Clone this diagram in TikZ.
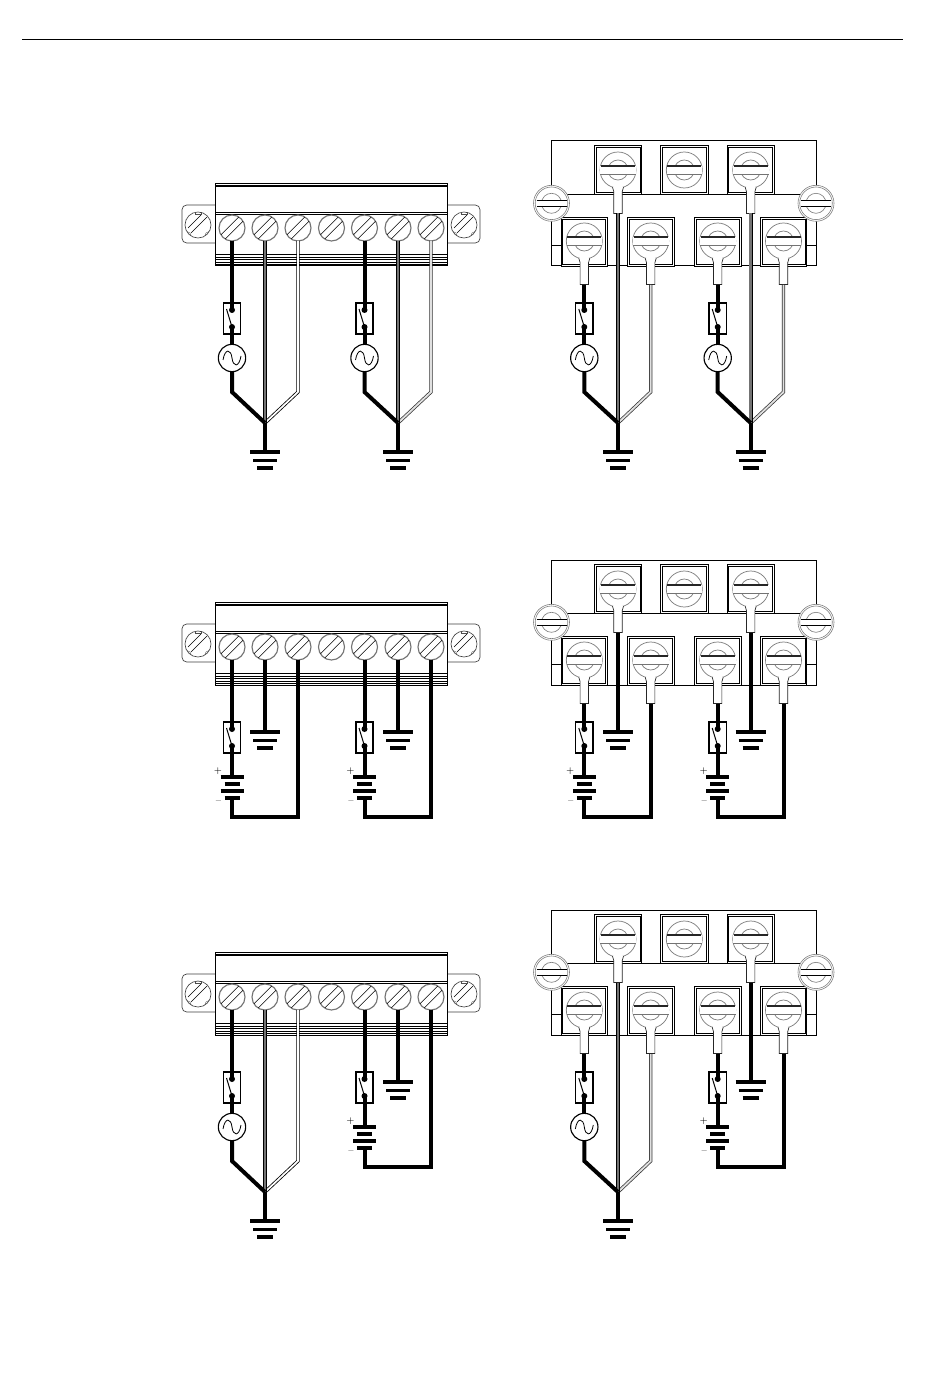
\documentclass[tikz,border=0pt]{standalone}
\usetikzlibrary{calc}
\definecolor{scr}{gray}{0.45}
\definecolor{ringc}{gray}{0.5}
\tikzset{
  hotwire/.style={draw=black,line width=3pt,line cap=butt,line join=miter},
  greywire/.style={draw=black,double=black!55,double distance=2pt,line width=0.6pt,line join=miter},
  whitewire/.style={draw=black,double=white,double distance=1.3pt,line width=0.6pt,line join=miter},
  lightwire/.style={draw=black!80,double=black!12,double distance=1.4pt,line width=0.55pt,line join=miter},
  fusebox/.style={draw=black,fill=white,line width=1.05pt,minimum width=13pt,minimum height=23pt,inner sep=0pt},
  acsource/.style={circle,draw=black,fill=white,line width=0.85pt,minimum size=20.5pt,inner sep=0pt},
  term/.pic={
    \draw[draw=scr,line width=0.85pt,fill=white] (0,0) circle (13);
    \draw[line width=0.4pt] (-6.8,11) -- (11,-6.8) (-11,6.8) -- (6.8,-11);
  },
  earscrew/.pic={
    \draw[draw=black!75,line width=0.5pt,fill=white] (0,0) circle (13);
    \draw[line width=0.4pt] (-7,8) -- (9,-8) (-10,3) -- (3,-10);
    \draw[draw=black!70,line width=0.3pt] (-3,-13) -- (-3,-10.5) -- (3,-10.5) -- (3,-13);
    \draw[draw=black!70,line width=0.3pt] (-11,6.5) -- (-8,8) -- (-7,11);
    \draw[draw=black!70,line width=0.3pt] (11,6.5) -- (8,8) -- (7,11);
  },
  panelscrew/.pic={
    \draw[draw=ringc,line width=0.55pt,fill=white] (0,0) circle (18);
    \draw[draw=ringc,line width=0.55pt] (0,0) circle (10);
    \fill[white] (-17.8,-4.2) rectangle (17.8,4.2);
    \draw[draw=scr,line width=0.55pt] (-17.8,4.2) -- (17.8,4.2);
    \draw[draw=black!85,line width=0.8pt] (-17,-4) -- (17,-4);
  },
  lugged/.pic={
    \pic at (0,0) {panelscrew};
    \draw[draw=black!85,line width=0.5pt,fill=white] (-5.5,17.2) -- (-4.2,21.7) -- (-4.2,43.5) -- (4.2,43.5) -- (4.2,21.7) -- (5.5,17.2);
  },
  sidescrew/.pic={
    \draw[draw=ringc,line width=0.45pt,fill=white] (0,0) circle (18);
    \draw[draw=ringc,line width=0.45pt] (0,0) circle (16.3);
    \draw[draw=ringc,line width=0.5pt] (0,0) circle (10);
    \fill[white] (-14.5,-3.2) rectangle (14.5,3.2);
    \draw[line width=0.65pt] (-15,-3.2) -- (15,-3.2) (-15,3.2) -- (15,3.2);
  },
  sinewave/.pic={
    \draw[line width=0.6pt] (-9,2) .. controls (-7,-10) and (-1,-9) .. (0,0) .. controls (1,9) and (7,10) .. (9,-2);
  },
  bars/.style={line width=2.7pt},
  groundsym/.pic={
    \draw[bars] (-15,0) -- (15,0) (-12,8.5) -- (12,8.5) (-8,16) -- (8,16);
  },
  batterysym/.pic={
    \draw[bars] (-11.5,0) -- (11.5,0) (-7.5,7.3) -- (7.5,7.3) (-11.5,14.3) -- (11.5,14.3) (-7.5,21) -- (7.5,21);
  },
  sign/.style={font=\fontsize{7}{7}\selectfont,inner sep=0pt}
}
\newcommand{\switchpart}[2]{%
  \node[fusebox] (#1f) at (#2,318.5) {};
  \coordinate (#1da) at (#2,310);
  \coordinate (#1db) at (#2,327);
  \draw[line width=0.75pt] ($(#1da)+(-5.5,-1)$) -- (#1db);
  \fill (#1da) circle (3) (#1db) circle (3);
}
\newcommand{\ACset}[8]{%
  \switchpart{#1}{#2}
  \coordinate (#1h) at (#2,#5);
  \coordinate (#1w) at (#3,#6);
  \coordinate (#1t) at (#4,#7);
  \coordinate (#1j) at (#3,423);
  \coordinate (#1bh) at (#2,392);
  \coordinate (#1bt) at (#4,392);
  \coordinate (#1e) at (#3,452);
  \node[acsource] (#1s) at (#2,358) {};
  \pic at (#1s) {sinewave};
  \draw[#8] (#1t) -- (#1bt) -- (#1j);
  \draw[greywire] (#1w) -- (#1j);
  \draw[hotwire] (#1h) -- (#1da);
  \draw[hotwire] (#1db) -- (#1s.north);
  \draw[hotwire] (#1s.south) -- (#1bh) -- (#1j);
  \draw[hotwire] (#1j) -- (#1e);
  \pic at (#1e) {groundsym};
}
\newcommand{\DCset}[7]{%
  \switchpart{#1}{#2}
  \coordinate (#1h) at (#2,#5);
  \coordinate (#1w) at (#3,#6);
  \coordinate (#1t) at (#4,#7);
  \coordinate (#1c) at (#2,357.7);
  \coordinate (#1n) at (#2,378.7);
  \coordinate (#1bh) at (#2,398);
  \coordinate (#1bt) at (#4,398);
  \coordinate (#1e) at (#3,313);
  \draw[hotwire] (#1h) -- (#1da);
  \draw[hotwire] (#1db) -- (#1c);
  \draw[hotwire] (#1n) -- (#1bh) -- (#1bt) -- (#1t);
  \draw[hotwire] (#1w) -- (#1e);
  \pic at (#1e) {groundsym};
  \pic at (#1c) {batterysym};
  \node[sign] (#1plus) at (#2-14,352) {+};
  \node[sign] (#1minus) at (#2-13.5,383) {--};
}
\newcommand{\leftconn}{%
  \draw[draw=black!75,line width=0.5pt,rounded corners=3.5pt,fill=white] (215,205) -- (182,205) -- (182,243) -- (215,243);
  \draw[draw=black!75,line width=0.5pt,rounded corners=3.5pt,fill=white] (447,205) -- (480,205) -- (480,243) -- (447,243);
  \draw[line width=0.75pt,fill=white] (215,183.5) rectangle (447,266);
  \draw[line width=1.2pt] (215,186) -- (447,186);
  \draw[line width=0.6pt] (215,212.5) -- (447,212.5) (215,214.5) -- (447,214.5);
  \draw[line width=0.9pt] (215,254.5) -- (447,254.5);
  \draw[line width=0.6pt] (215,257) -- (447,257) (215,259.5) -- (447,259.5) (215,262) -- (447,262) (215,264) -- (447,264);
  \pic at (198,225) {earscrew};
  \pic at (464,225) {earscrew};
  \foreach \xx in {232,265,298,331.5,364.5,398,431}{\pic at (\xx,228) {term};}
}
\newcommand{\rightpanel}{%
  \draw[line width=0.75pt] (551.7,141) rectangle (816,266);
  \draw[line width=0.75pt] (551.7,194.3) -- (816,194.3);
  \draw[line width=0.6pt] (551.7,245.7) -- (561,245.7) (806.7,245.7) -- (816,245.7);
  \foreach \xx in {618,684.3,750.7}{
    \draw[line width=0.5pt,fill=white] (\xx-23.7,145.3) rectangle (\xx+23.7,194.3);
    \draw[line width=0.7pt] (\xx-22,147.7) rectangle (\xx+22,192.5);
  }
  \foreach \xx in {584.3,650.7,717.7,783.5}{
    \draw[line width=0.5pt,fill=white] (\xx-23.3,217.3) rectangle (\xx+23.3,266);
    \draw[line width=0.7pt] (\xx-21.5,219.5) rectangle (\xx+21.5,264);
  }
  \pic at (551.5,203.3) {sidescrew};
  \pic at (816,203.3) {sidescrew};
  \pic at (618,170) {lugged};
  \pic at (684.3,170) {panelscrew};
  \pic at (750.7,170) {lugged};
  \foreach \xx in {584.3,650.7,717.7,783.5}{\pic at (\xx,241) {lugged};}
}
\begin{document}
\begin{tikzpicture}[x=0.75pt,y=-0.75pt]
\useasboundingbox (0,0) rectangle (950,1387);
\fill[white] (0,0) rectangle (950,1387);
\coordinate (ruleL) at (22,40);
\coordinate (ruleR) at (903,40);
\draw[line width=0.75pt] (ruleL) -- (ruleR);

% row 1
\leftconn
\rightpanel
\ACset{aa}{232}{265}{298}{241}{241}{241}{whitewire}
\ACset{ab}{364.5}{398}{431}{241}{241}{241}{lightwire}
\ACset{ac}{584.3}{618}{650.7}{285}{213.5}{285}{lightwire}
\ACset{ad}{717.7}{750.7}{783.5}{285}{213.5}{285}{lightwire}

% row 2
\begin{scope}[shift={(0,419)}]
\leftconn
\rightpanel
\DCset{ba}{232}{265}{298}{241}{241}{241}
\DCset{bb}{364.5}{398}{431}{241}{241}{241}
\DCset{bc}{584.3}{618}{650.7}{285}{213.5}{285}
\DCset{bd}{717.7}{750.7}{783.5}{285}{213.5}{285}
\end{scope}

% row 3
\begin{scope}[shift={(0,769)}]
\leftconn
\rightpanel
\ACset{ca}{232}{265}{298}{241}{241}{241}{whitewire}
\DCset{cb}{364.5}{398}{431}{241}{241}{241}
\ACset{cc}{584.3}{618}{650.7}{285}{213.5}{285}{lightwire}
\DCset{cd}{717.7}{750.7}{783.5}{285}{213.5}{285}
\end{scope}
\end{tikzpicture}
\end{document}
